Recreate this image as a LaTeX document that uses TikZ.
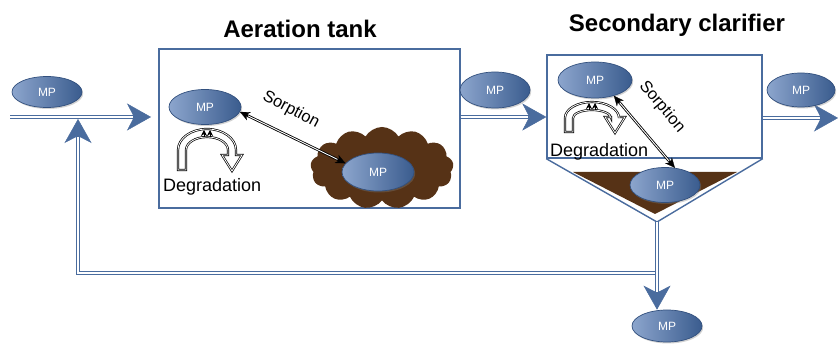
\documentclass[tikz,border=0pt]{standalone}
\usepackage{fontspec}
\setmainfont{Liberation Sans}
\usetikzlibrary{arrows.meta,shapes.geometric,shapes.symbols,shadows}
\definecolor{fblue}{RGB}{74,108,158}
\definecolor{mpl}{RGB}{140,165,205}
\definecolor{mpd}{RGB}{58,92,142}
\definecolor{mpb}{RGB}{50,80,126}
\definecolor{sludge}{RGB}{86,50,22}
\tikzset{
 mp/.style={ellipse, draw=mpb, line width=0.7pt, left color=mpl, right color=mpd,
   minimum width=72pt, minimum height=35pt, inner sep=0pt, text=white,
   font=\fontsize{12}{14}\selectfont,
   drop shadow={shadow xshift=1.2pt, shadow yshift=-1.5pt, opacity=0.35}},
 box/.style={draw=fblue, line width=1.4pt, inner sep=0pt, fill=white},
 flow/.style={draw=fblue, line width=4.6pt,
   -{Stealth[length=24pt,width=27pt,inset=7pt,line width=0.5pt]},
   postaction={draw=white, line width=1.5pt, -, shorten >=18pt}},
 sorp/.style={draw=black, line width=2.6pt,
   {Stealth[length=10pt,width=9pt,line width=0.3pt]}-{Stealth[length=10pt,width=9pt,line width=0.3pt]},
   postaction={draw=white, line width=0.9pt, -, shorten >=9pt, shorten <=9pt}},
 degr/.style={draw=black, double=white, double distance=0.8pt, line width=0.7pt, fill=white, line join=miter},
 deglab/.style={font=\fontsize{18}{21}\selectfont, inner sep=0pt, anchor=base west},
 sorlab/.style={font=\fontsize{16.5}{19}\selectfont, inner sep=0pt},
 ttl/.style={font=\bfseries\fontsize{24}{28}\selectfont, inner sep=0pt, anchor=base},
}
\newcommand\degarrow[5]{%
 \begin{scope}[shift={(#1,#2)}]
  \draw[degr] (-#3,#5) -- (-#3,0) arc[start angle=180,end angle=360,x radius=#3,y radius=#4]
    -- (#3,#5-15) -- (#3+6,#5-15) -- (#3-4,#5+1) -- (#3-14,#5-15) -- (#3-8,#5-15)
    -- (#3-8,0) arc[start angle=360,end angle=180,x radius=#3-8,y radius=#4-8]
    -- (-#3+8,#5) -- cycle;
  \draw[-{Stealth[length=6pt,width=6pt]}, line width=0.6pt] (-3,-#4+8) -- (-3,-#4+1);
  \draw[-{Stealth[length=6pt,width=6pt]}, line width=0.6pt] (3,-#4+8) -- (3,-#4+1);
 \end{scope}}
\begin{document}
\begin{tikzpicture}[x=1pt,y=-1pt]
\useasboundingbox[fill=white] (0,0) rectangle (838,344);
% titles
\node[ttl] (t1) at (300,38) {Aeration tank};
\node[ttl] (t2) at (677,32) {Secondary clarifier};
% tanks
\node[box, minimum width=301pt, minimum height=159pt] (aer) at (309.5,128.5) {};
\node[box, minimum width=215pt, minimum height=103pt] (sec) at (654.5,106.5) {};
\coordinate (vb) at (657,222);
\draw[fblue, line width=1.4pt, line join=round] (sec.south west) -- (vb) -- (sec.south east);
\fill[sludge] (573,172) -- (737,172) -- (655,214) -- cycle;
\node[cloud, cloud puffs=13, cloud puff arc=120, aspect=1.75, fill=sludge,
  minimum width=143pt, minimum height=82pt, inner sep=0pt] (floc) at (382,168) {};
% flow connectors
\coordinate (inA) at (10,117);
\coordinate (inB) at (151,117);
\coordinate (rs) at (657,273);
\coordinate (rc) at (78,273);
\coordinate (rt) at (78,119);
\coordinate (outE) at (838,118);
\node[mp, minimum width=70pt, minimum height=32pt] (m7) at (667,326) {MP};
\draw[flow] (rs) -- (rc) -- (rt);
\draw[flow] (vb) -- (vb |- m7.north);
\draw[flow] (inA) -- (inB);
\draw[flow] (aer.east |- inA) -- (sec.west |- inA);
\draw[flow] (sec.east |- outE) -- (outE);
% MP nodes
\node[mp, minimum width=70pt, minimum height=31pt] (m0) at (47,92) {MP};
\node[mp] (m1) at (205,107) {MP};
\node[mp, minimum height=38pt] (m2) at (378,172) {MP};
\node[mp, minimum width=70pt, minimum height=36pt] (m3) at (495,90) {MP};
\node[mp, minimum width=74pt, minimum height=36pt] (m4) at (595,80) {MP};
\node[mp, minimum width=70pt] (m5) at (665,185) {MP};
\node[mp, minimum width=68pt, minimum height=34pt] (m6) at (801,90) {MP};
% degradation
\degarrow{207}{150}{29}{21}{20}
\degarrow{592}{118}{27}{16}{14}
\node[deglab] (d1) at (163,192) {Degradation};
\node[deglab] (d2) at (550,157) {Degradation};
% sorption
\draw[sorp] (m1.-8) -- (m2.165);
\draw[sorp] (m4.-40) -- (m5.60);
\node[sorlab, rotate=-28] (s1) at (291,110) {Sorption};
\node[sorlab, rotate=-50] (s2) at (662,107) {Sorption};
\end{tikzpicture}
\end{document}
